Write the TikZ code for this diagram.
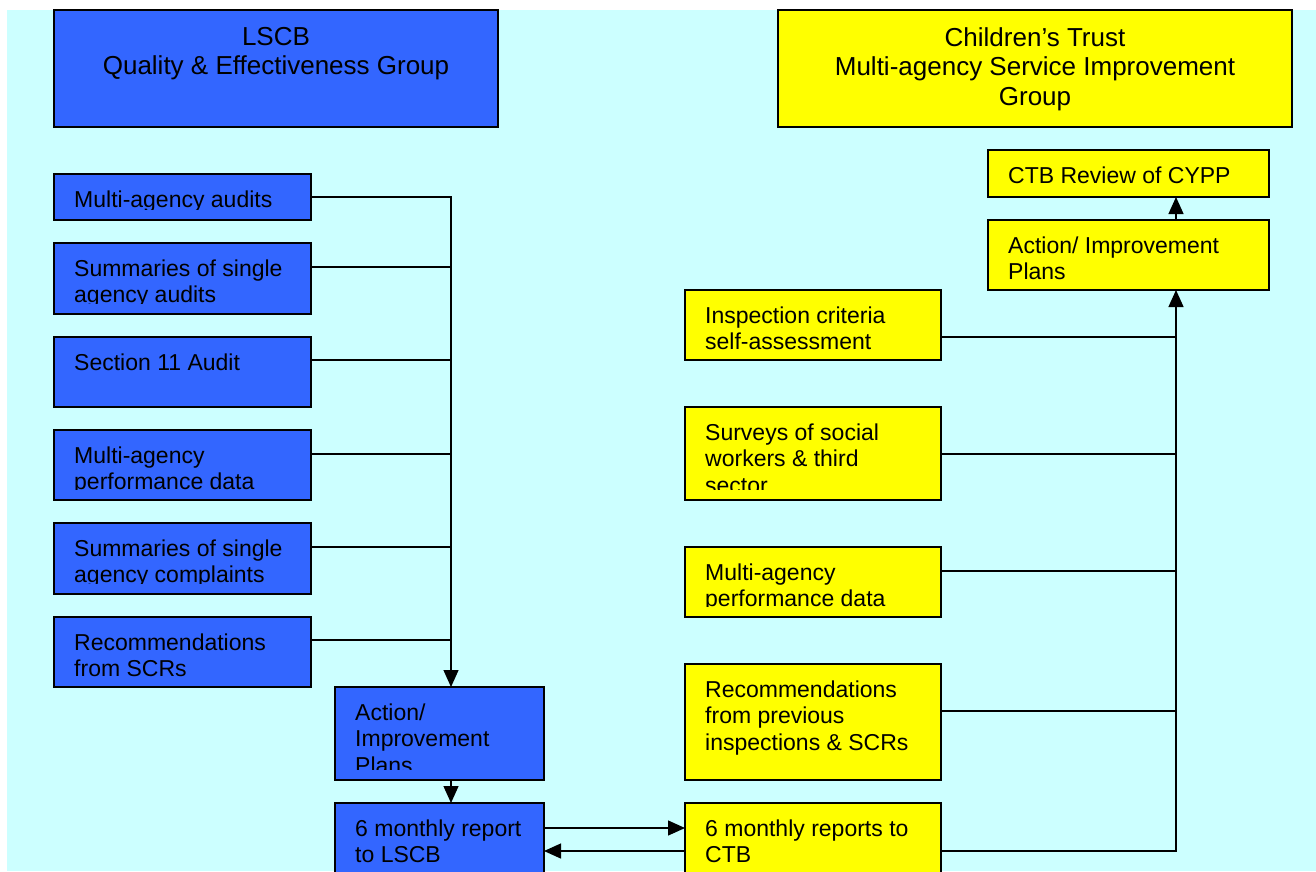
\documentclass[tikz,border=0pt]{standalone}
\usepackage{fontspec}
\setmainfont{Liberation Sans}
\usetikzlibrary{arrows.meta,calc}
\definecolor{bgcyan}{HTML}{CCFFFF}
\definecolor{lblue}{HTML}{3366FF}
\definecolor{cyel}{HTML}{FFFF00}
\newcommand{\mlines}[1]{\begin{tabular}[t]{@{}l@{}}#1\end{tabular}}
\newcommand{\clines}[1]{\begin{tabular}[t]{@{}c@{}}#1\end{tabular}}
% name, style, left, top, right, bottom
\newcommand{\dbox}[6]{\node[#2, minimum width={#5-#3}, minimum height={#6-#4}] (#1) at (#3,#4) {};}
% name, text (clipped 10.5pt above the box bottom)
\newcommand{\btext}[2]{\begin{scope}\clip (#1.north west) rectangle ([yshift=10.5pt]#1.south east);
  \node[bodytext] (#1t) at ($(#1.north west)+(20,33)$) {\mlines{#2}};\end{scope}}
\begin{document}
\begin{tikzpicture}[x=1pt,y=-1pt,
  box/.style={draw=black, line width=1.5pt, rectangle, inner sep=0pt, outer sep=0pt, anchor=north west},
  bluebox/.style={box, fill=lblue},
  yelbox/.style={box, fill=cyel},
  bodytext/.style={font=\fontsize{23}{26.5}\selectfont, inner sep=0pt, anchor=base west, text=black},
  headtext/.style={font=\fontsize{26}{29.5}\selectfont, inner sep=0pt, anchor=base, text=black},
  conn/.style={draw=black, line width=1.3pt},
  arr/.style={conn, -{Triangle[length=17pt,width=15pt]}},
]
\useasboundingbox (0,0) rectangle (1316,871);
\clip (0,0) rectangle (1316,871);
\fill[white] (0,0) rectangle (1316,871);
\fill[bgcyan] (7,10) rectangle (1316,871);

% headers
\dbox{H1}{bluebox}{54}{10}{498}{127}
\node[headtext] (H1t) at ($(H1.north)+(0,35)$) {\clines{LSCB\\Quality \& Effectiveness Group}};
\dbox{H2}{yelbox}{778}{10}{1292}{127}
\node[headtext] (H2t) at ($(H2.north)+(0,36)$) {\clines{Children’s Trust\\Multi-agency Service Improvement\\Group}};

% left column
\dbox{L1}{bluebox}{54}{174}{311}{220}
\btext{L1}{Multi-agency audits}
\dbox{L2}{bluebox}{54}{243}{311}{314}
\btext{L2}{Summaries of single\\agency audits}
\dbox{L3}{bluebox}{54}{337}{311}{407}
\btext{L3}{Section 11 Audit}
\dbox{L4}{bluebox}{54}{430}{311}{500}
\btext{L4}{Multi-agency\\performance data}
\dbox{L5}{bluebox}{54}{523}{311}{594}
\btext{L5}{Summaries of single\\agency complaints}
\dbox{L6}{bluebox}{54}{617}{311}{687}
\btext{L6}{Recommendations\\from SCRs}
\dbox{LA}{bluebox}{335}{687}{544}{780}
\btext{LA}{Action/\\Improvement\\Plans}
\dbox{LR}{bluebox}{335}{803}{544}{890}
\btext{LR}{6 monthly report\\to LSCB}

% right column
\dbox{RC}{yelbox}{988}{150}{1269}{197}
\btext{RC}{CTB Review of CYPP}
\dbox{RA}{yelbox}{988}{220}{1269}{290}
\btext{RA}{Action/ Improvement\\Plans}
\dbox{R1}{yelbox}{685}{290}{941}{360}
\btext{R1}{Inspection criteria\\self-assessment}
\dbox{R2}{yelbox}{685}{407}{941}{500}
\btext{R2}{Surveys of social\\workers \& third\\sector}
\dbox{R3}{yelbox}{685}{547}{941}{617}
\btext{R3}{Multi-agency\\performance data}
\dbox{R4}{yelbox}{685}{664}{941}{780}
\btext{R4}{Recommendations\\from previous\\inspections \& SCRs}
\dbox{R5}{yelbox}{685}{803}{941}{890}
\btext{R5}{6 monthly reports to\\CTB}

% trunks
\coordinate (lt) at (451,0);
\coordinate (rt) at (1176,0);

% left connectors
\draw[arr] (L1.east) -| (LA.north -| lt);
\foreach \n/\d in {L2/24, L3/23, L4/24, L5/24, L6/23}{
  \path ($(\n.north east)+(0,\d)$) coordinate (\n o);
  \draw[conn] (\n o) -- (\n o -| lt);
}
\draw[arr] (LA.south -| lt) -- (LR.north -| lt);

% report exchange
\path ($(LR.north east)+(0,25)$) coordinate (p1);
\draw[arr] (p1) -- (p1 -| R5.west);
\path ($(R5.north west)+(0,48)$) coordinate (p2);
\draw[arr] (p2) -- (p2 -| LR.east);

% right connectors
\path ($(R5.north east)+(0,48)$) coordinate (p3);
\draw[arr] (p3) -| (RA.south -| rt);
\foreach \n/\d in {R1/47, R2/47, R3/24, R4/47}{
  \path ($(\n.north east)+(0,\d)$) coordinate (\n o);
  \draw[conn] (\n o) -- (\n o -| rt);
}
\draw[arr] (RA.north -| rt) -- (RC.south -| rt);
\end{tikzpicture}
\end{document}
